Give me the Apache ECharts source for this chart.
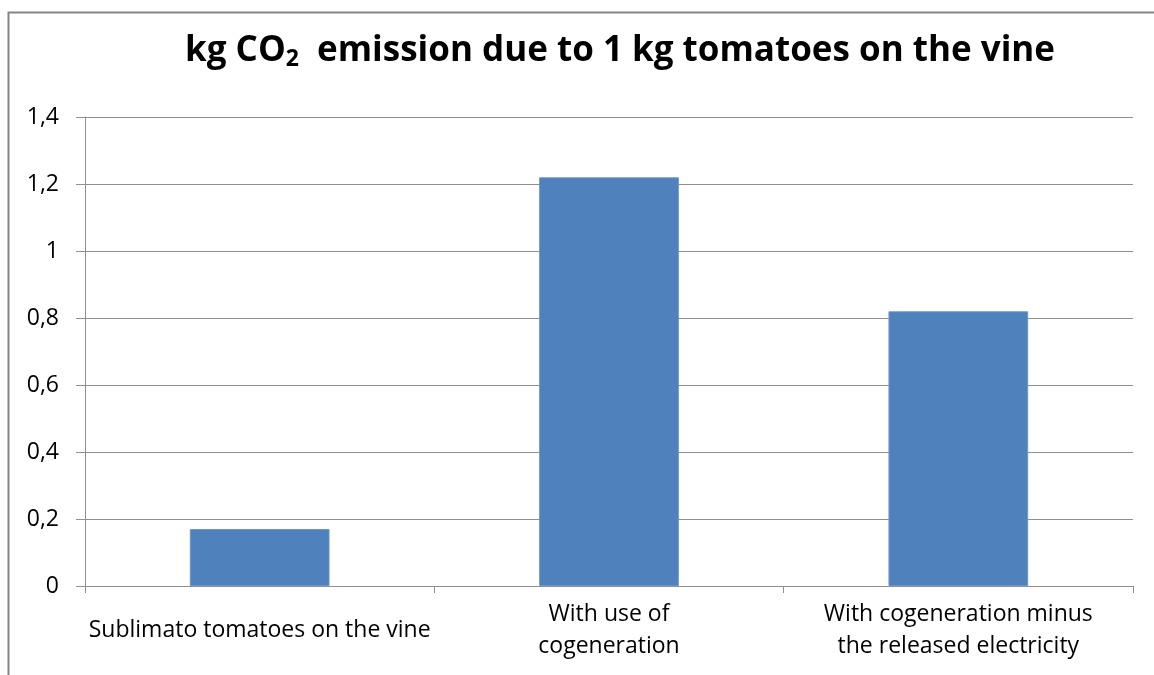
<!DOCTYPE html>
<html>
<head>
<meta charset="utf-8">
<script src="https://cdn.jsdelivr.net/npm/echarts@6/dist/echarts.min.js"></script>
<style>
  html, body { margin: 0; padding: 0; background: #fff; }
  #chart { width: 1154px; height: 675px; }
</style>
</head>
<body>
<div id="chart"></div>
<script>
// Emission per kg of tomatoes on the vine, by production scenario
const categories = [
  'Sublimato tomatoes on the vine',
  'With use of\ncogeneration',
  'With cogeneration minus\nthe released electricity'
];
const emissions = [0.17, 1.22, 0.82];
const yMin = 0, yMax = 1.4, yStep = 0.2;

const FONT = '"Open Sans", "Noto Sans", sans-serif';
const GRID_GRAY = '#8f8f8f';

const chart = echarts.init(document.getElementById('chart'), null, { renderer: 'canvas' });

chart.setOption({
  backgroundColor: '#ffffff',
  animation: false,
  title: {
    text: 'kg CO{sub|2}  emission due to 1 kg tomatoes on the vine',
    left: 615,
    textAlign: 'center',
    top: 27,
    textStyle: {
      fontFamily: FONT,
      fontWeight: 'bold',
      fontSize: 35,
      color: '#000',
      rich: {
        sub: {
          fontFamily: FONT,
          fontWeight: 'bold',
          fontSize: 23,
          color: '#000',
          padding: [16, 0, 0, 0]
        }
      }
    }
  },
  graphic: [{
    type: 'rect',
    shape: { x: 8.5, y: 12.5, width: 1200, height: 700 },
    style: { fill: 'none', stroke: '#858585', lineWidth: 2 },
    silent: true
  }],
  grid: { left: 85, right: 21, top: 117, bottom: 89, containLabel: false },
  xAxis: {
    type: 'category',
    data: categories,
    axisLine: { show: true, lineStyle: { color: GRID_GRAY, width: 1 } },
    axisTick: { show: true, alignWithLabel: false, length: 7, lineStyle: { color: GRID_GRAY } },
    axisLabel: {
      interval: 0,
      margin: 44,
      verticalAlign: 'middle',
      lineHeight: 32,
      fontFamily: FONT,
      fontSize: 23,
      color: '#000'
    }
  },
  yAxis: {
    type: 'value',
    min: yMin,
    max: yMax,
    interval: yStep,
    axisLine: { show: true, lineStyle: { color: GRID_GRAY, width: 1 } },
    axisTick: { show: true, length: 9, lineStyle: { color: GRID_GRAY } },
    splitLine: { show: true, lineStyle: { color: GRID_GRAY, width: 1 } },
    axisLabel: {
      margin: 26,
      fontFamily: FONT,
      fontSize: 23,
      color: '#000',
      formatter: v => String(Math.round(v * 10) / 10).replace('.', ',')
    }
  },
  series: [{
    type: 'bar',
    data: emissions,
    barWidth: '40%',
    itemStyle: { color: '#4f81bd', borderColor: '#6f95c8', borderWidth: 1 }
  }]
});
</script>
</body>
</html>
